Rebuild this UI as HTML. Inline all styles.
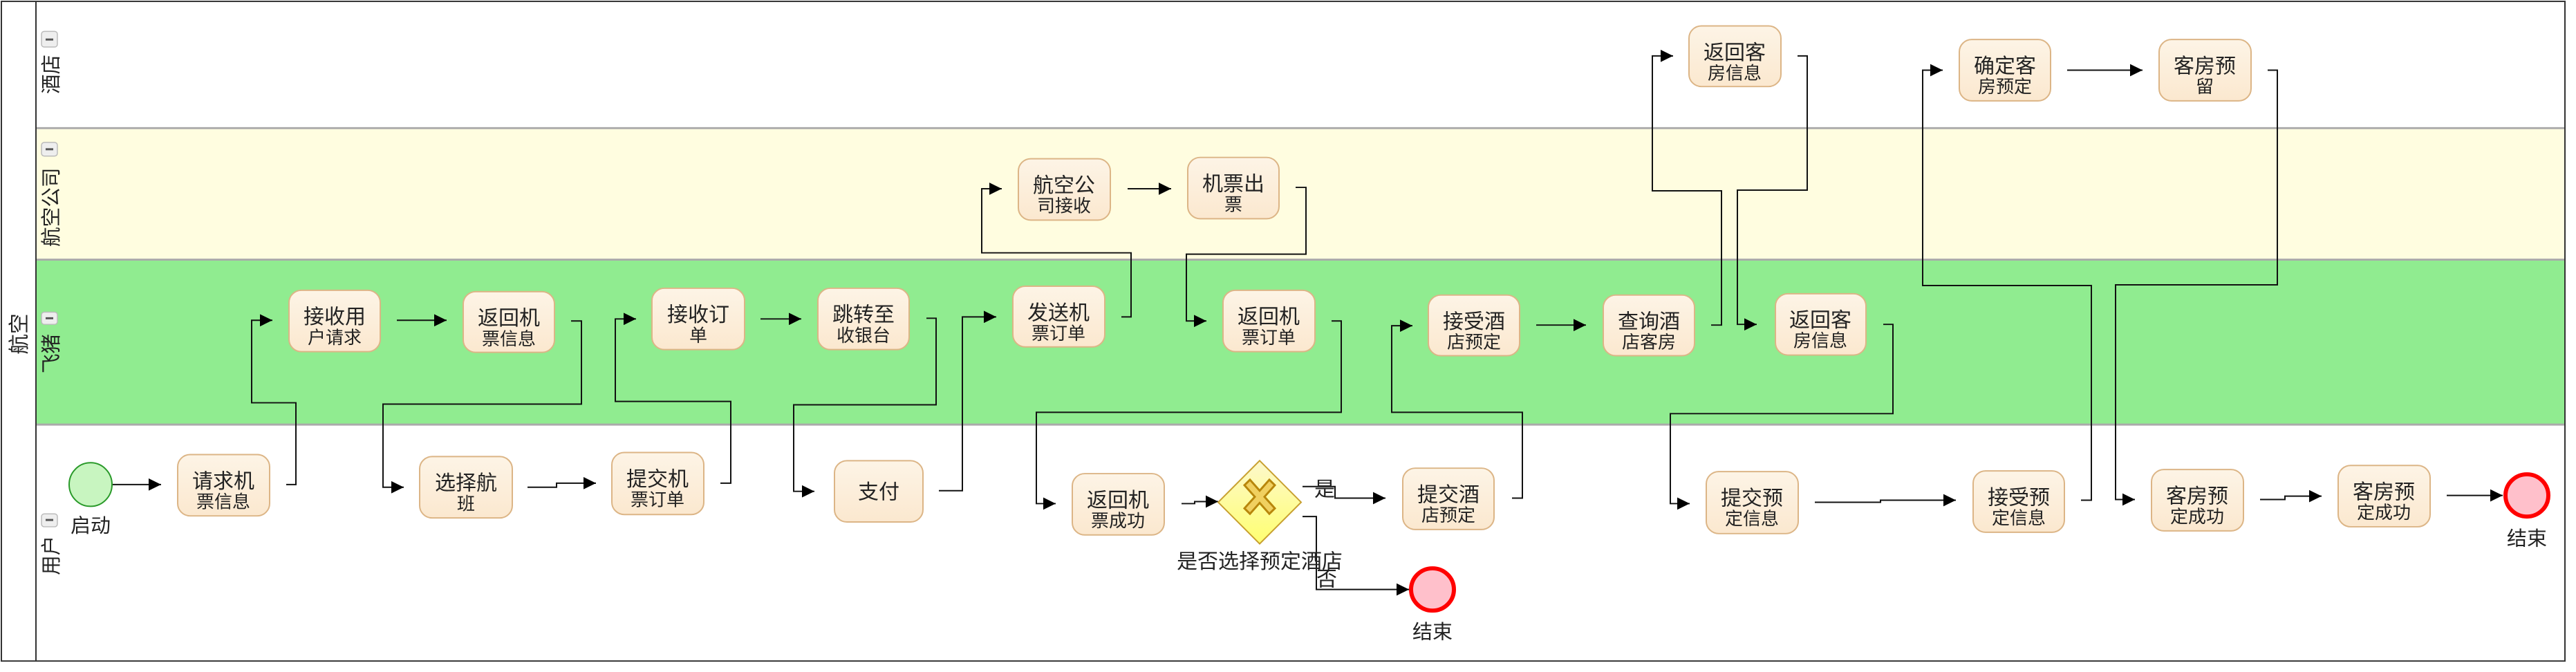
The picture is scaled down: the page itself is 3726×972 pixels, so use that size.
<!DOCTYPE html>
<html><head><meta charset="utf-8"><style>
html,body{margin:0;padding:0;background:#fff;}
svg{display:block;}
text{font-family:"Liberation Sans","Noto Sans CJK SC",sans-serif;fill:#222;}
.b{fill:url(#tg);stroke:#dcb586;stroke-width:2;}
.c{fill:none;stroke:#111;stroke-width:2;marker-end:url(#ar);}
.t1{font-size:30px;text-anchor:middle;}
.t2{font-size:26px;text-anchor:middle;}
</style></head><body>
<svg width="3726" height="972" viewBox="0 0 3726 972" xmlns="http://www.w3.org/2000/svg">
<defs>
<linearGradient id="tg" x1="0" y1="0" x2="0" y2="1"><stop offset="0" stop-color="#fdf4e6"/><stop offset="1" stop-color="#fbe8cf"/></linearGradient>
<linearGradient id="gg" x1="0" y1="0" x2="0" y2="1"><stop offset="0" stop-color="#fdf8cc"/><stop offset="1" stop-color="#ffff70"/></linearGradient>
<marker id="ar" markerUnits="userSpaceOnUse" markerWidth="20" markerHeight="18" refX="18" refY="9" orient="auto"><path d="M0,0 L18,9 L0,18 z" fill="#000"/></marker>
</defs>
<g transform="scale(1,0.9857)">
<rect x="2" y="2" width="3708" height="185" fill="#fff"/>
<rect x="52" y="188" width="3658" height="193" fill="#fffde0"/>
<rect x="52" y="381" width="3658" height="242" fill="#90ec90"/>
<rect x="52" y="623" width="3658" height="347" fill="#fff"/>
<line x1="52" y1="188" x2="3710" y2="188" stroke="#aaa" stroke-width="3"/>
<line x1="52" y1="381" x2="3710" y2="381" stroke="#aaa" stroke-width="3"/>
<line x1="52" y1="623" x2="3710" y2="623" stroke="#aaa" stroke-width="3"/>
<rect x="2" y="2" width="3708" height="968" fill="none" stroke="#333" stroke-width="2"/>
<line x1="52" y1="2" x2="52" y2="970" stroke="#333" stroke-width="2"/>
<text transform="translate(38,520) rotate(-90)" font-size="30">航空</text>
<g fill="#eee" stroke="#bbb" stroke-width="1.5">
<rect x="60" y="46" width="23" height="23" rx="4"/><rect x="60" y="209" width="23" height="20" rx="4"/><rect x="60" y="458" width="23" height="18" rx="4"/><rect x="60" y="754" width="23" height="19" rx="4"/></g>
<g stroke="#555" stroke-width="3"><line x1="66" y1="58" x2="77" y2="58"/><line x1="66" y1="219" x2="77" y2="219"/><line x1="66" y1="467" x2="77" y2="467"/><line x1="66" y1="763" x2="77" y2="763"/></g>
<text transform="translate(84,138) rotate(-90)" font-size="29">酒店</text>
<text transform="translate(84,362) rotate(-90)" font-size="29">航空公司</text>
<text transform="translate(84,548) rotate(-90)" font-size="29">飞猪</text>
<text transform="translate(84,844) rotate(-90)" font-size="29">用户</text>

<!-- connectors -->
<path class="c" d="M163,711 H233"/>
<path class="c" d="M414,711 H428 V591 H364 V470 H394"/>
<path class="c" d="M574,470 H646"/>
<path class="c" d="M826,471 H841 V593 H554 V715 H584"/>
<path class="c" d="M763,715 H805 V709 H862"/>
<path class="c" d="M1042,709 H1057 V589 H890 V468 H920"/>
<path class="c" d="M1100,468 H1159"/>
<path class="c" d="M1340,467 H1354 V594 H1148 V721 H1178"/>
<path class="c" d="M1358,720 H1392 V465 H1441"/>
<path class="c" d="M1622,465 H1636 V371 H1420 V277 H1449"/>
<path class="c" d="M1631,277 H1694"/>
<path class="c" d="M1874,275 H1889 V373 H1716 V471 H1745"/>
<path class="c" d="M1926,471 H1940 V605 H1499 V739 H1527"/>
<path class="c" d="M1709,739 H1728 V736 H1762"/>
<path class="c" d="M1884,714 H1931 V731 H2004"/>
<path class="c" d="M1884,758 H1904 V865 H2038"/>
<path class="c" d="M2187,731 H2202 V605 H2013 V478 H2043"/>
<path class="c" d="M2222,477 H2294"/>
<path class="c" d="M2475,477 H2490 V280 H2390 V82 H2420"/>
<path class="c" d="M2600,82 H2614 V279 H2513 V476 H2541"/>
<path class="c" d="M2724,476 H2738 V607 H2416 V739 H2444"/>
<path class="c" d="M2625,737 H2720 V734 H2829"/>
<path class="c" d="M3010,734 H3025 V419 H2781 V103 H2810"/>
<path class="c" d="M2990,103 H3099"/>
<path class="c" d="M3280,103 H3294 V418 H3060 V733 H3088"/>
<path class="c" d="M3269,733 H3305 V728 H3358"/>
<path class="c" d="M3539,727 H3620"/>

<!-- events -->
<ellipse cx="131" cy="711" rx="31" ry="32" fill="#c8f5c0" stroke="#2a9a2a" stroke-width="2"/>
<text x="131" y="781" font-size="29" text-anchor="middle">启动</text>
<circle cx="2072" cy="865" r="31" fill="#ffc0cb" stroke="#f00" stroke-width="6"/>
<text x="2072" y="937" font-size="29" text-anchor="middle">结束</text>
<circle cx="3655" cy="727" r="31" fill="#ffc0cb" stroke="#f00" stroke-width="6"/>
<text x="3655" y="800" font-size="29" text-anchor="middle">结束</text>

<!-- gateway -->
<path d="M1822,676 L1882,737 L1822,798 L1762,737 z" fill="url(#gg)" stroke="#c8a030" stroke-width="2"/>
<path d="M1800,712 L1808,704 L1822,720 L1836,704 L1844,712 L1829,729 L1844,746 L1836,754 L1822,738 L1808,754 L1800,746 L1815,729 z" fill="#f0d060" stroke="#b8860b" stroke-width="3"/>
<text x="1822" y="834" font-size="30" text-anchor="middle">是否选择预定酒店</text>
<text x="1916" y="728" font-size="30" text-anchor="middle">是</text>
<text x="1919" y="860" font-size="30" text-anchor="middle">否</text>

<!-- tasks -->
<g>
<rect class="b" x="257" y="667" width="133" height="90" rx="18"/><text class="t1" x="323" y="716">请求机</text><text class="t2" x="323" y="745">票信息</text>
<rect class="b" x="418" y="426" width="132" height="90" rx="18"/><text class="t1" x="484" y="475">接收用</text><text class="t2" x="484" y="504">户请求</text>
<rect class="b" x="670" y="428" width="132" height="89" rx="18"/><text class="t1" x="736" y="477">返回机</text><text class="t2" x="736" y="506">票信息</text>
<rect class="b" x="607" y="670" width="134" height="90" rx="18"/><text class="t1" x="674" y="719">选择航</text><text class="t2" x="674" y="748">班</text>
<rect class="b" x="885" y="664" width="133" height="91" rx="18"/><text class="t1" x="951" y="713">提交机</text><text class="t2" x="951" y="742">票订单</text>
<rect class="b" x="943" y="423" width="134" height="90" rx="18"/><text class="t1" x="1010" y="472">接收订</text><text class="t2" x="1010" y="501">单</text>
<rect class="b" x="1183" y="423" width="132" height="90" rx="18"/><text class="t1" x="1249" y="472">跳转至</text><text class="t2" x="1249" y="501">收银台</text>
<rect class="b" x="1207" y="676" width="128" height="90" rx="18"/><text class="t1" x="1271" y="732">支付</text>
<rect class="b" x="1465" y="420" width="133" height="89" rx="18"/><text class="t1" x="1531" y="469">发送机</text><text class="t2" x="1531" y="498">票订单</text>
<rect class="b" x="1473" y="233" width="133" height="90" rx="18"/><text class="t1" x="1539" y="282">航空公</text><text class="t2" x="1539" y="311">司接收</text>
<rect class="b" x="1718" y="231" width="132" height="90" rx="18"/><text class="t1" x="1784" y="280">机票出</text><text class="t2" x="1784" y="309">票</text>
<rect class="b" x="1769" y="426" width="133" height="90" rx="18"/><text class="t1" x="1835" y="475">返回机</text><text class="t2" x="1835" y="504">票订单</text>
<rect class="b" x="1551" y="695" width="133" height="90" rx="18"/><text class="t1" x="1617" y="744">返回机</text><text class="t2" x="1617" y="773">票成功</text>
<rect class="b" x="2066" y="433" width="132" height="89" rx="18"/><text class="t1" x="2132" y="482">接受酒</text><text class="t2" x="2132" y="511">店预定</text>
<rect class="b" x="2319" y="433" width="132" height="89" rx="18"/><text class="t1" x="2385" y="482">查询酒</text><text class="t2" x="2385" y="511">店客房</text>
<rect class="b" x="2443" y="38" width="133" height="89" rx="18"/><text class="t1" x="2509" y="87">返回客</text><text class="t2" x="2509" y="116">房信息</text>
<rect class="b" x="2029" y="687" width="132" height="90" rx="18"/><text class="t1" x="2095" y="736">提交酒</text><text class="t2" x="2095" y="765">店预定</text>
<rect class="b" x="2468" y="692" width="133" height="91" rx="18"/><text class="t1" x="2534" y="741">提交预</text><text class="t2" x="2534" y="770">定信息</text>
<rect class="b" x="2568" y="431" width="131" height="90" rx="18"/><text class="t1" x="2633" y="480">返回客</text><text class="t2" x="2633" y="509">房信息</text>
<rect class="b" x="2834" y="58" width="132" height="90" rx="18"/><text class="t1" x="2900" y="107">确定客</text><text class="t2" x="2900" y="136">房预定</text>
<rect class="b" x="3123" y="58" width="133" height="90" rx="18"/><text class="t1" x="3189" y="107">客房预</text><text class="t2" x="3189" y="136">留</text>
<rect class="b" x="2854" y="691" width="132" height="90" rx="18"/><text class="t1" x="2920" y="740">接受预</text><text class="t2" x="2920" y="769">定信息</text>
<rect class="b" x="3112" y="689" width="133" height="90" rx="18"/><text class="t1" x="3178" y="738">客房预</text><text class="t2" x="3178" y="767">定成功</text>
<rect class="b" x="3382" y="683" width="133" height="90" rx="18"/><text class="t1" x="3448" y="732">客房预</text><text class="t2" x="3448" y="761">定成功</text>
</g>
</g>
</svg>
</body></html>
